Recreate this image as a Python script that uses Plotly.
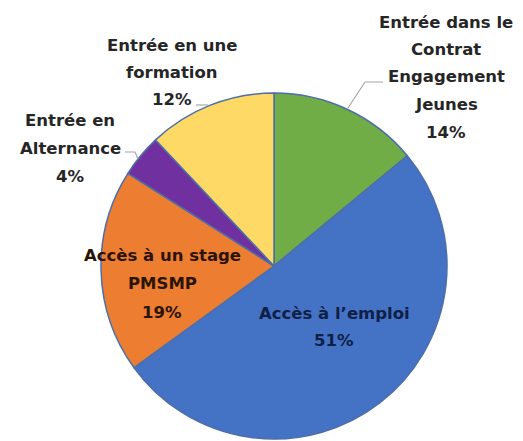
import plotly.graph_objects as go

W, H = 523, 441
OFF = 8  # default page body margin of the html page

labels = ["Entrée dans le Contrat Engagement Jeunes", "Accès à l’emploi",
          "Accès à un stage PMSMP", "Entrée en Alternance", "Entrée en une formation"]
values = [14, 51, 19, 4, 12]
colors = ["#70AD47", "#4472C4", "#ED7D31", "#7030A0", "#FFD966"]
# label lines (text only) for each slice
label_lines = [
    ["Entrée dans le", "Contrat", "Engagement", "Jeunes"],
    ["Accès à l’emploi"],
    ["Accès à un stage", "PMSMP"],
    ["Entrée en", "Alternance"],
    ["Entrée en une", "formation"],
]
# label block placement (px: center x, first line y, line step) and text colour
label_pos = [(446, 22, 27.5), (334, 313, 27), (162, 255, 28.5), (70, 120, 28), (172, 45, 27.5)]
label_col = ["#262626", "#0f1f45", "#2a1405", "#262626", "#262626"]

total = sum(values)

def px(x, y):
    return (x - OFF) / W, 1 - (y - OFF) / H

dx0, dy0 = px(101, 439)
dx1, dy1 = px(447, 93)

fig = go.Figure(go.Pie(
    labels=labels, values=values, sort=False, direction="clockwise", rotation=0,
    marker=dict(colors=colors, line=dict(color="#4d6ea8", width=1.5)),
    textinfo="none", hoverinfo="label+percent", showlegend=False,
    domain=dict(x=[dx0, dx1], y=[dy0, dy1]),
))

annotations = []
for i, lines in enumerate(label_lines):
    cx, y0, step = label_pos[i]
    pct = f"{round(values[i] / total * 100)}%"
    for j, t in enumerate(lines + [pct]):
        xx, yy = px(cx, y0 + j * step)
        annotations.append(dict(
            x=xx, y=yy, xref="paper", yref="paper", text=t, showarrow=False,
            xanchor="center", yanchor="middle",
            font=dict(family="DejaVu Sans", size=16.5, color=label_col[i], weight="bold")))

# leader lines
leaders = [
    [(348, 108), (365, 82), (383, 82)],
    [(208, 105), (196, 105)],
    [(125, 152), (135, 152), (138, 159)],
]
shapes = []
for pts in leaders:
    path = ""
    for k, (x, y) in enumerate(pts):
        xx, yy = px(x, y)
        path += ("M" if k == 0 else " L") + f"{xx},{yy}"
    shapes.append(dict(type="path", path=path, xref="paper", yref="paper",
                       line=dict(color="#a6a6a6", width=1.2)))

fig.update_layout(
    width=W, height=H, margin=dict(l=0, r=0, t=0, b=0),
    paper_bgcolor="white", plot_bgcolor="white",
    annotations=annotations, shapes=shapes,
)

fig.write_html("out.html")
